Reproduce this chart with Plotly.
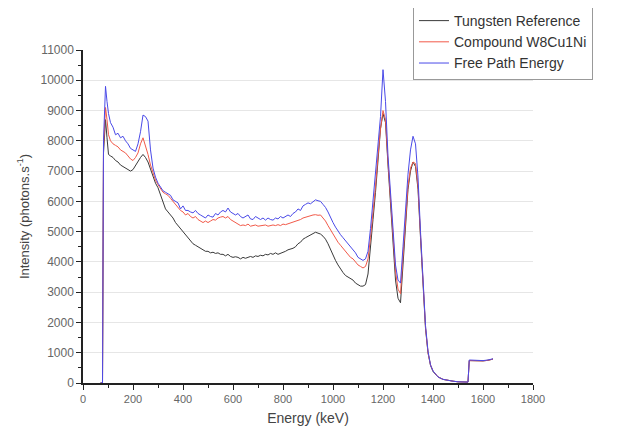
import plotly.graph_objects as go

energy = [70, 78, 82, 90, 96, 102] + list(range(110, 1401, 10)) + [1420, 1440, 1460, 1480, 1500, 1520, 1540, 1545, 1560, 1580, 1600, 1620, 1640]

tungsten = [0, 0, 7600, 8700, 8100, 7550,
    7500, 7450, 7350, 7300, 7200, 7150, 7100, 7050, 7000, 7050, 7200, 7300, 7450, 7550, 7450, 7300, 7050, 6800, 6600, 6450, 6200, 5950, 5750, 5650,
    5550, 5450, 5300, 5200, 5100, 5000, 4900, 4800, 4700, 4600, 4550, 4500, 4450, 4400, 4350, 4350, 4300, 4320, 4280, 4300,
    4250, 4250, 4200, 4250, 4180, 4150, 4170, 4150, 4100, 4150, 4120, 4150, 4180, 4150, 4200, 4180, 4220, 4200, 4250, 4230,
    4280, 4250, 4300, 4250, 4280, 4300, 4350, 4400, 4420, 4450, 4500, 4600, 4650, 4750, 4800, 4850, 4900, 4950, 4980, 4950,
    4920, 4850, 4750, 4600, 4400, 4200, 4050, 3900, 3750, 3650, 3550, 3500, 3450, 3400, 3300, 3250, 3200, 3200, 3250, 3600,
    4400, 5400, 6300, 7300, 8400, 8900, 8600, 7200, 5800, 4500, 3400, 2800, 2650, 3900, 5300, 6400, 7000, 7300, 7150, 6400,
    4800, 3100, 1800, 1000, 580, 380,
    200, 120, 80, 60, 40, 40, 30, 740, 740, 720, 730, 750, 790]

compound = [0, 0, 7800, 9100, 8700, 8200,
    8000, 7900, 7850, 7800, 7700, 7650, 7600, 7500, 7400, 7350, 7450, 7600, 7900, 8100, 7850, 7550, 7200, 6950, 6700, 6550, 6400, 6300, 6250, 6200,
    6100, 6000, 5900, 5800, 5700, 5650, 5550, 5600, 5500, 5450, 5500, 5400, 5350, 5300, 5350, 5300, 5350, 5400, 5380, 5450,
    5480, 5500, 5450, 5500, 5400, 5350, 5300, 5250, 5200, 5220, 5200, 5250, 5180, 5200, 5220, 5180, 5200, 5200, 5220, 5180,
    5200, 5220, 5200, 5230, 5200, 5250, 5230, 5260, 5280, 5300, 5350, 5380, 5400, 5450, 5480, 5500, 5520, 5550, 5560, 5540,
    5550, 5450, 5350, 5200, 5050, 4900, 4750, 4650, 4550, 4450, 4350, 4250, 4150, 4100, 4000, 3900, 3850, 3800, 3850, 4100,
    4800, 5600, 6500, 7500, 8400, 9000, 8700, 7300, 6000, 4800, 3700, 3100, 2950, 4200, 5500, 6500, 7100, 7300, 7250, 6500,
    4900, 3200, 1850, 1000, 600, 400,
    200, 120, 80, 60, 40, 40, 30, 740, 740, 720, 730, 750, 790]

free_path = [0, 0, 8000, 9800, 9300, 8900,
    8600, 8450, 8200, 8250, 8100, 8150, 8000, 7900, 7750, 7700, 7650, 7900, 8300, 8850, 8800, 8650, 7700, 7100, 6800, 6600, 6450, 6350, 6300, 6250,
    6200, 6050, 6000, 5950, 5750, 5850, 5700, 5700, 5650, 5620, 5700, 5600, 5550, 5500, 5450, 5550, 5500, 5480, 5600, 5550,
    5650, 5700, 5650, 5780, 5650, 5600, 5550, 5600, 5500, 5450, 5500, 5550, 5420, 5400, 5500, 5450, 5400, 5450, 5380, 5450,
    5400, 5380, 5450, 5420, 5500, 5450, 5500, 5550, 5500, 5600, 5650, 5750, 5700, 5850, 5900, 5950, 5920, 6000, 6050, 6020,
    6000, 5900, 5800, 5650, 5450, 5300, 5150, 5000, 4900, 4800, 4700, 4600, 4500, 4400, 4300, 4150, 4100, 4050, 4100, 4350,
    5100, 6000, 6900, 7700, 8800, 10350, 9300, 7500, 6200, 5000, 3900, 3400, 3300, 4500, 5800, 6900, 7700, 8150, 7900, 6800,
    5000, 3300, 1900, 1050, 600, 400,
    200, 120, 80, 60, 40, 40, 30, 760, 750, 730, 740, 760, 800]

names = ["Tungsten Reference", "Compound W8Cu1Ni", "Free Path Energy"]
colors = ["#3a3a3a", "#f25a4a", "#4a4ae8"]

fig = go.Figure()
for name, ys, c in zip(names, [tungsten, compound, free_path], colors):
    fig.add_trace(go.Scatter(x=energy, y=ys, mode="lines", name=name,
                             line=dict(color=c, width=1)))

fig.update_layout(
    width=609, height=420,
    margin=dict(l=75, r=84, t=42, b=45, autoexpand=False),
    paper_bgcolor="white", plot_bgcolor="white",
    font=dict(family="Liberation Sans, Arial, sans-serif", color="#444"),
    showlegend=True,
    legend=dict(xref="container", yref="container", x=0.665, y=0.919,
                xanchor="left", yanchor="middle",
                bgcolor="white", bordercolor="#999", borderwidth=1,
                font=dict(size=14, color="#333"), tracegroupgap=0,
                itemwidth=30),
)
fig.update_xaxes(range=[0, 1800], dtick=200, showgrid=False, automargin=False,
                 showline=True, linecolor="#222", linewidth=1.5,
                 ticks="outside", ticklen=5, tickcolor="#222",
                 tickfont=dict(size=11, color="#666"),
                 minor=dict(dtick=100, ticks="outside", ticklen=3, tickcolor="#222"),
                 title=dict(text="Energy (keV)", font=dict(size=14, color="#444"), standoff=9),
                 zeroline=False)
fig.update_yaxes(range=[0, 11000], dtick=1000, tickformat="d", showgrid=True, gridcolor="#e6e6e6",
                 automargin=False,
                 showline=True, linecolor="#222", linewidth=1.5,
                 ticks="outside", ticklen=5, tickcolor="#222",
                 tickfont=dict(size=12, color="#666"),
                 minor=dict(dtick=500, ticks="outside", ticklen=3, tickcolor="#222"),
                 title=dict(text="Intensity (photons.s<sup>-1</sup>)", font=dict(size=13, color="#444"), standoff=8),
                 zeroline=False)

fig.write_html("out.html")
